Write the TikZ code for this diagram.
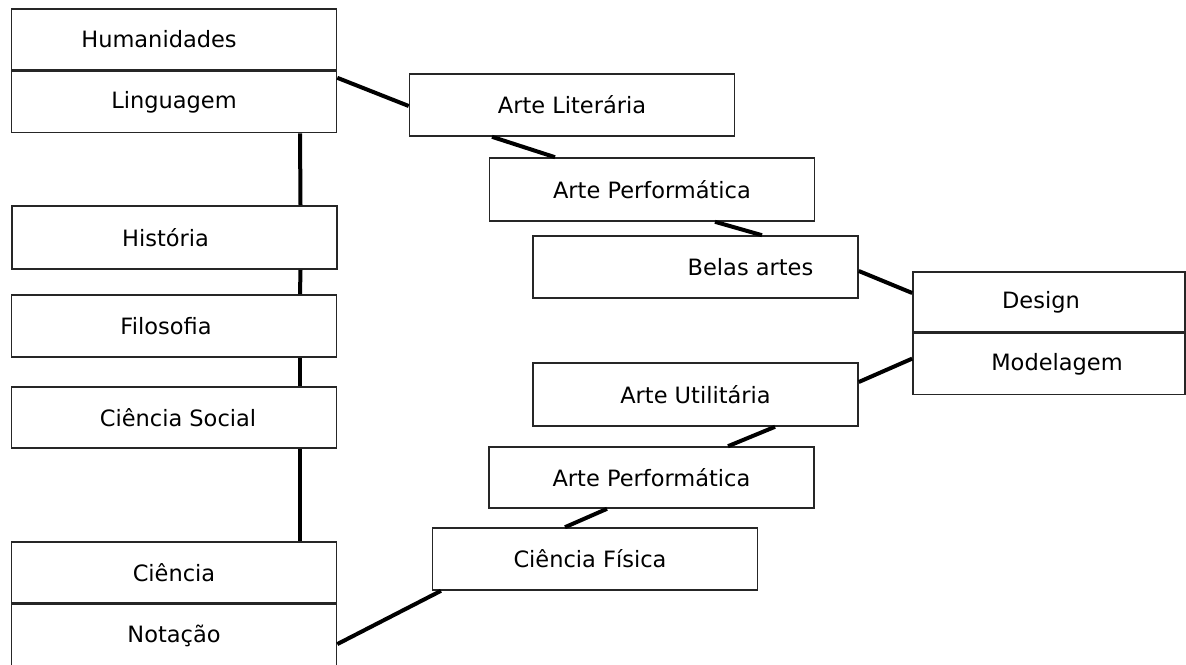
\documentclass[tikz,border=0pt]{standalone}
\usepackage{fontspec}
\setmainfont{DejaVu Sans}
\usetikzlibrary{positioning}

\tikzset{
    caixa/.style={draw=black!85, line width=1.6pt, fill=white, inner sep=0pt,
        minimum width=325pt, minimum height=62pt, font=\fontsize{22.5}{25}\selectfont},
    ligacao/.style={line width=4pt}
}

\begin{document}
\begin{tikzpicture}[x=1pt, y=-1pt]

    \useasboundingbox (0,0) rectangle (1186,664);

    % coluna da esquerda
    \node[caixa, minimum height=61pt] (hum) at (174,39.5) {\hspace*{-30pt}Humanidades};
    \node[caixa, minimum height=61pt, below=0pt of hum] (ling) {Linguagem};
    \node[caixa, minimum height=63pt] (hist) at (174.5,237.5) {\hspace*{-18pt}História};
    \node[caixa] (filo) at (174,326) {\hspace*{-16pt}Filosofia};
    \node[caixa, minimum height=61pt] (csoc) at (174,417.5) {\hspace*{8pt}Ciência Social};
    \node[caixa, minimum height=61pt] (cien) at (174,572.5) {Ciência};
    \node[caixa, minimum height=63pt, below=0pt of cien] (nota) {Notação};

    % artes
    \node[caixa] (artlit) at (572,105) {Arte Literária};
    \node[caixa, minimum height=63pt] (perf1) at (652,189.5) {Arte Performática};
    \node[caixa] (belas) at (695.5,267) {\hspace*{110pt}Belas artes};
    \node[caixa, minimum height=63pt] (util) at (695.5,394.5) {Arte Utilitária};
    \node[caixa, minimum height=61pt] (perf2) at (651.5,477.5) {Arte Performática};
    \node[caixa] (fis) at (595,559) {\hspace*{-10pt}Ciência Física};

    % direita
    \node[caixa, minimum width=272pt, minimum height=60pt] (design) at (1049,302) {\hspace*{-16pt}Design};
    \node[caixa, minimum width=272pt, minimum height=61pt, below=0pt of design] (model) {\hspace*{16pt}Modelagem};

    \begin{scope}[ligacao]
        \foreach \a/\b in {ling/hist, hist/filo, filo/csoc, csoc/cien}
            \draw ([xshift=126pt]\a.south) -- ([xshift=126pt]\b.north);
        \draw ([yshift=-7pt]ling.north east) -- ([yshift=-1pt]artlit.west);
        \draw ([xshift=-80pt]artlit.south) -- ([xshift=-97pt]perf1.north);
        \draw ([xshift=63pt]perf1.south) -- ([xshift=66.5pt]belas.north);
        \draw ([yshift=-4pt]belas.east) -- ([yshift=9pt]design.west);
        \draw ([yshift=12.5pt]util.east) -- ([yshift=5.5pt]model.west);
        \draw ([xshift=79.5pt]util.south) -- ([xshift=76.5pt]perf2.north);
        \draw ([xshift=-44.5pt]perf2.south) -- ([xshift=-30pt]fis.north);
        \draw ([xshift=-154pt]fis.south) -- ([yshift=-8pt]nota.east);
    \end{scope}

\end{tikzpicture}
\end{document}
